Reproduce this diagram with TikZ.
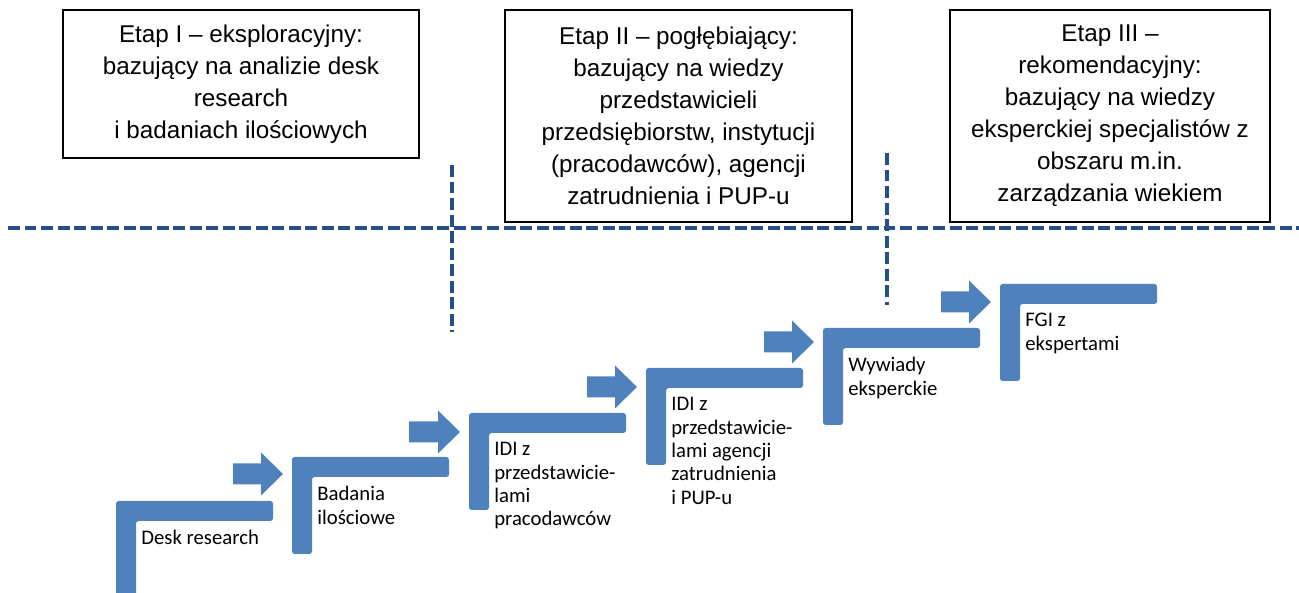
\documentclass[tikz,border=0pt]{standalone}
\usepackage{fontspec}
\setmainfont{Carlito}
\newfontfamily\boxfont{Liberation Sans}
\usepackage{tikz}
\usetikzlibrary{positioning}
\definecolor{stepblue}{RGB}{79,129,189}
\definecolor{lineblue}{RGB}{38,78,138}

\begin{document}
\begin{tikzpicture}[x=0.2mm, y=-0.2mm,
	stepfill/.style={fill=stepblue, rounded corners=1.5},
	etap/.style={draw=black, line width=1pt, align=center, inner sep=0pt, font=\boxfont\fontsize{13.8}{18.2}\selectfont},
	steptext/.style={anchor=north west, align=left, inner sep=0pt, font=\fontsize{11.8}{13.3}\selectfont},
	divider/.style={draw=lineblue, line width=2pt, dash pattern=on 6.8pt off 2.6pt}]
					
					\useasboundingbox (0,0) rectangle (1299,593);
					
					% Stage boxes
					\node[etap, minimum width=71.2mm, minimum height=29.6mm] (e1) at (241,84) {Etap I – eksploracyjny:\\bazujący na analizie desk\\research\\i badaniach ilościowych};
					\node[etap, minimum width=69.4mm, minimum height=42.4mm] (e2) at (678.5,116) {Etap II – pogłębiający:\\bazujący na wiedzy\\przedstawicieli\\przedsiębiorstw, instytucji\\(pracodawców), agencji\\zatrudnienia i PUP-u};
					\node[etap, minimum width=64mm, minimum height=42.4mm] (e3) at (1110,116) {Etap III –\\rekomendacyjny:\\bazujący na wiedzy\\eksperckiej specjalistów z\\obszaru m.in.\\zarządzania wiekiem};
					
					
					% Dividers
					\coordinate (h1) at (8,228);
					\coordinate (h2) at (1299,228);
					\coordinate (a1) at (452,165);
					\coordinate (a2) at (452,332);
					\coordinate (b1) at (887,153);
					\coordinate (b2) at (887,305);
					\draw[divider] (h1) -- (h2);
					\draw[divider] (a1) -- (a2);
					\draw[divider] (b1) -- (b2);
					
					
					% Steps
					\fill[stepfill] (116,501) -- ++(157,0) -- ++(0,20) -- ++(-137,0) -- ++(0,77) -- ++(-20,0) -- cycle;
					\fill[stepfill] (292,457) -- ++(157,0) -- ++(0,20) -- ++(-137,0) -- ++(0,77) -- ++(-20,0) -- cycle;
					\fill[stepfill] (469,413) -- ++(157,0) -- ++(0,20) -- ++(-137,0) -- ++(0,77) -- ++(-20,0) -- cycle;
					\fill[stepfill] (646,368) -- ++(157,0) -- ++(0,20) -- ++(-137,0) -- ++(0,77) -- ++(-20,0) -- cycle;
					\fill[stepfill] (823,328) -- ++(157,0) -- ++(0,20) -- ++(-137,0) -- ++(0,77) -- ++(-20,0) -- cycle;
					\fill[stepfill] (1000,284) -- ++(157,0) -- ++(0,20) -- ++(-137,0) -- ++(0,77) -- ++(-20,0) -- cycle;
					
					
					% Arrows between steps
					\fill[stepblue] (233,463.5) -- ++(28,0) -- ++(0,-11) -- ++(22,21.5) -- ++(-22,21.5) -- ++(0,-11) -- ++(-28,0) -- cycle;
					\fill[stepblue] (409,421.5) -- ++(29,0) -- ++(0,-11) -- ++(22,21.5) -- ++(-22,21.5) -- ++(0,-11) -- ++(-29,0) -- cycle;
					\fill[stepblue] (587,376.5) -- ++(28,0) -- ++(0,-11) -- ++(22,21.5) -- ++(-22,21.5) -- ++(0,-11) -- ++(-28,0) -- cycle;
					\fill[stepblue] (764,331.5) -- ++(28,0) -- ++(0,-11) -- ++(22,21.5) -- ++(-22,21.5) -- ++(0,-11) -- ++(-28,0) -- cycle;
					\fill[stepblue] (941,291.5) -- ++(28,0) -- ++(0,-11) -- ++(22,21.5) -- ++(-22,21.5) -- ++(0,-11) -- ++(-28,0) -- cycle;
					
					
					% Step labels
					\node[steptext] (t1) at (141,530) {Desk research};
					\node[steptext] (t2) at (317,486) {Badania\\ilościowe};
					\node[steptext] (t3) at (494,442) {IDI z\\przedstawicie-\\lami\\pracodawców};
					\node[steptext] (t4) at (671,397) {IDI z\\przedstawicie-\\lami agencji\\zatrudnienia\\i PUP-u};
					\node[steptext] (t5) at (848,357) {Wywiady\\eksperckie};
					\node[steptext] (t6) at (1025,313) {FGI z\\ekspertami};
					
			\end{tikzpicture}
\end{document}
